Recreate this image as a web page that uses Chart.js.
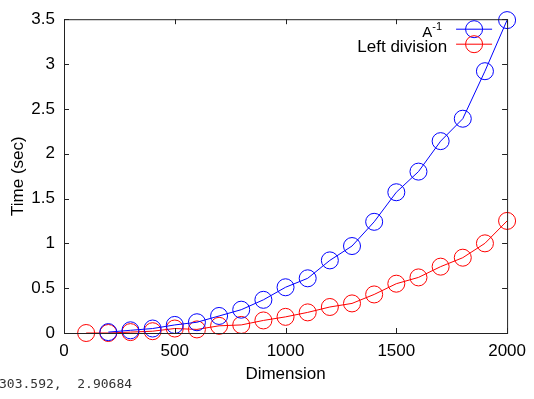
<!DOCTYPE html>
<html lang="en">
  <head>
    <meta charset="UTF-8" />
    <title>Time vs Dimension</title>
    <style>
      * { margin: 0; padding: 0; box-sizing: border-box; }
      body { width: 534px; height: 399px; background: #fff; overflow: hidden; }
      .wrapper { position: relative; width: 534px; height: 399px; }
      #chart { display: block; }
      #coords {
        position: absolute;
        left: -1px;
        top: 376px;
        font: 13px "DejaVu Sans Mono", monospace;
        color: #333;
        white-space: pre;
      }
    </style>
  </head>
  <body>
    <div class="wrapper">
      <canvas id="chart" width="534" height="399"></canvas>
      <div id="coords">303.592,  2.90684</div>
    </div>

    <script src="https://cdn.jsdelivr.net/npm/chart.js@4.4.0/dist/chart.umd.min.js"></script>
    <script>
      // Matrix dimension (x) and run times in seconds
      const dimensions = [100, 200, 300, 400, 500, 600, 700, 800, 900, 1000,
        1100, 1200, 1300, 1400, 1500, 1600, 1700, 1800, 1900, 2000];
      const inverseTimes = [null, 0.01, 0.03, 0.05, 0.09, 0.12, 0.19, 0.26, 0.37, 0.51,
        0.61, 0.81, 0.97, 1.24, 1.57, 1.80, 2.14, 2.39, 2.92, 3.49];
      const leftDivTimes = [0.00, 0.00, 0.01, 0.02, 0.05, 0.04, 0.08, 0.09, 0.14, 0.18,
        0.23, 0.29, 0.33, 0.43, 0.55, 0.62, 0.74, 0.84, 1.00, 1.25];
      const seriesNames = ["A-1", "Left division"];
      const seriesColors = ["#0000ff", "#ff0000"];

      const FONT = "Liberation Sans, Arial, sans-serif";
      const toPoints = (ys) =>
        dimensions.map((x, i) => ({ x: x, y: ys[i] })).filter((p) => p.y !== null);

      // gnuplot style frame with inward ticks on all four sides
      const framePlugin = {
        id: "frame",
        afterDatasetsDraw(chart) {
          const { ctx, chartArea: a, scales } = chart;
          const len = 5;
          ctx.save();
          ctx.strokeStyle = "#222";
          ctx.lineWidth = 1;
          ctx.strokeRect(a.left + 0.5, a.top + 0.5, a.right - a.left, a.bottom - a.top);
          ctx.beginPath();
          scales.x.ticks.forEach((t) => {
            const px = Math.round(scales.x.getPixelForValue(t.value)) + 0.5;
            ctx.moveTo(px, a.bottom); ctx.lineTo(px, a.bottom - len);
            ctx.moveTo(px, a.top); ctx.lineTo(px, a.top + len);
          });
          scales.y.ticks.forEach((t) => {
            const py = Math.round(scales.y.getPixelForValue(t.value)) + 0.5;
            ctx.moveTo(a.left, py); ctx.lineTo(a.left + len, py);
            ctx.moveTo(a.right, py); ctx.lineTo(a.right - len, py);
          });
          ctx.stroke();
          ctx.restore();
        },
        afterDraw(chart) {
          // key in top right corner
          const { ctx, chartArea: a } = chart;
          ctx.save();
          chart.data.datasets.forEach((ds, i) => {
            const y = a.top + 10 + i * 15;
            const x0 = a.right - 51, x1 = a.right - 15, cx = (x0 + x1) / 2;
            ctx.strokeStyle = ds.borderColor;
            ctx.lineWidth = 1;
            ctx.beginPath();
            ctx.moveTo(x0, y); ctx.lineTo(x1, y);
            ctx.stroke();
            ctx.beginPath();
            ctx.arc(cx, y, 8.5, 0, Math.PI * 2);
            ctx.stroke();
            ctx.fillStyle = "#000";
            ctx.textBaseline = "middle";
            ctx.textAlign = "right";
            const tx = a.right - 60;
            if (ds.label === "A-1") {
              ctx.font = "11px " + FONT;
              ctx.fillText("-1", tx - 5, y - 2);
              const w = ctx.measureText("-1").width;
              ctx.font = "15px " + FONT;
              ctx.fillText("A", tx - 5 - w, y + 4);
            } else {
              ctx.font = "17px " + FONT;
              ctx.fillText(ds.label, tx, y + 3);
            }
          });
          ctx.restore();
        },
      };

      new Chart(document.getElementById("chart"), {
        type: "line",
        data: {
          datasets: seriesNames.map((name, i) => ({
            label: name,
            data: toPoints(i === 0 ? inverseTimes : leftDivTimes),
            borderColor: seriesColors[i],
            backgroundColor: "rgba(0,0,0,0)",
            borderWidth: 1,
            pointRadius: 8.5,
            pointBorderWidth: 1,
            pointBackgroundColor: "rgba(0,0,0,0)",
            tension: 0,
            clip: false,
          })),
        },
        plugins: [framePlugin],
        options: {
          responsive: false,
          animation: false,
          layout: { padding: { left: 0, right: 26, top: 15, bottom: 0 } },
          plugins: { legend: { display: false }, tooltip: { enabled: false } },
          scales: {
            x: {
              type: "linear",
              min: 0,
              max: 2000,
              afterFit: (s) => { s.height = 66; },
              grid: { display: false, drawTicks: false },
              border: { display: false },
              ticks: {
                stepSize: 500,
                padding: 8,
                color: "#000",
                font: { family: FONT, size: 17 },
                callback: (v) => String(v),
              },
              title: {
                display: true,
                text: "Dimension",
                color: "#000",
                font: { family: FONT, size: 17 },
                padding: { top: 0, bottom: 14 },
              },
            },
            y: {
              min: 0,
              max: 3.5,
              afterFit: (s) => { s.width = 64; },
              grid: { display: false, drawTicks: false },
              border: { display: false },
              ticks: {
                stepSize: 0.5,
                padding: 9,
                color: "#000",
                font: { family: FONT, size: 17 },
                callback: (v) => String(v),
              },
              title: {
                display: true,
                text: "Time (sec)",
                color: "#000",
                font: { family: FONT, size: 17 },
                padding: { top: 8, bottom: 0 },
              },
            },
          },
        },
      });
    </script>
  </body>
</html>
